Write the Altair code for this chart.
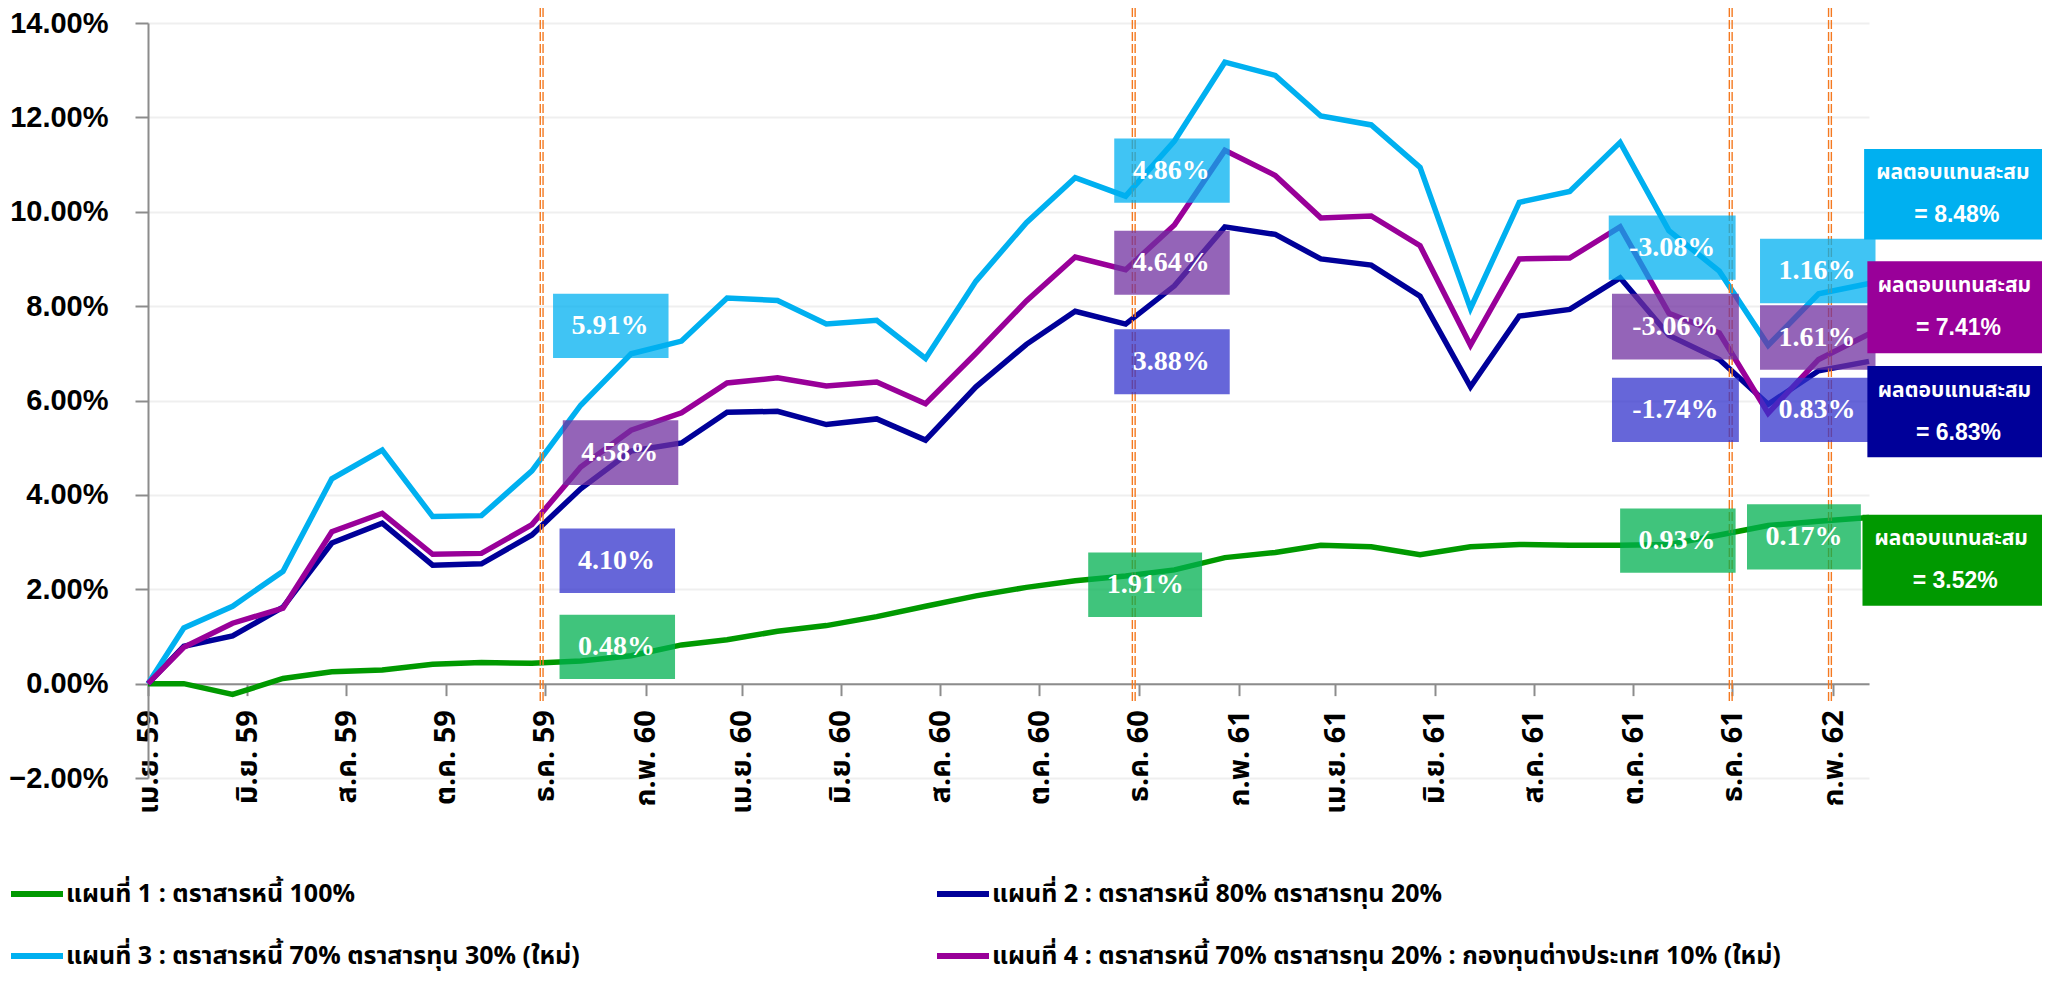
import altair as alt
import pandas as pd

# ---------------- data ----------------
dates = [
    "2016-04-01", "2016-04-23", "2016-05-23", "2016-06-23", "2016-07-23", "2016-08-23",
    "2016-09-23", "2016-10-23", "2016-11-23", "2016-12-23",
    "2017-01-23", "2017-02-23", "2017-03-23", "2017-04-23", "2017-05-23", "2017-06-23",
    "2017-07-23", "2017-08-23", "2017-09-23", "2017-10-23", "2017-11-23", "2017-12-23",
    "2018-01-23", "2018-02-23", "2018-03-23", "2018-04-23", "2018-05-23", "2018-06-23",
    "2018-07-23", "2018-08-23", "2018-09-23", "2018-10-23", "2018-11-23", "2018-12-23",
    "2019-01-23", "2019-02-23",
]

plan1 = [0.00, 0.00, -0.23, 0.11, 0.25, 0.29, 0.41, 0.45, 0.43, 0.48,
         0.59, 0.82, 0.93, 1.11, 1.23, 1.42, 1.64, 1.86, 2.04, 2.18, 2.28, 2.41,
         2.67, 2.78, 2.93, 2.90, 2.73, 2.90, 2.95, 2.93, 2.93, 2.95, 3.15, 3.35,
         3.44, 3.52]
plan2 = [0.00, 0.79, 1.01, 1.62, 2.98, 3.40, 2.51, 2.54, 3.15, 4.13,
         4.93, 5.10, 5.75, 5.77, 5.49, 5.61, 5.16, 6.29, 7.19, 7.89, 7.62, 8.43,
         9.68, 9.52, 9.00, 8.87, 8.21, 6.29, 7.79, 7.93, 8.60, 7.38, 6.87, 5.92,
         6.63, 6.83]
plan3 = [0.00, 1.18, 1.64, 2.38, 4.34, 4.95, 3.54, 3.56, 4.51, 5.90,
         6.99, 7.26, 8.17, 8.12, 7.62, 7.70, 6.89, 8.53, 9.77, 10.72, 10.33, 11.50,
         13.17, 12.89, 12.03, 11.84, 10.94, 7.95, 10.20, 10.43, 11.47, 9.60, 8.74, 7.17,
         8.26, 8.48]
plan4 = [0.00, 0.77, 1.28, 1.60, 3.22, 3.61, 2.74, 2.76, 3.37, 4.59,
         5.37, 5.74, 6.37, 6.48, 6.31, 6.39, 5.93, 7.00, 8.11, 9.04, 8.77, 9.72,
         11.30, 10.77, 9.87, 9.91, 9.28, 7.17, 9.00, 9.02, 9.68, 7.85, 7.43, 5.73,
         6.87, 7.41]

plan_names = [
    "แผนที่ 1 : ตราสารหนี้ 100%",
    "แผนที่ 2 : ตราสารหนี้ 80% ตราสารทุน 20%",
    "แผนที่ 3 : ตราสารหนี้ 70% ตราสารทุน 30% (ใหม่)",
    "แผนที่ 4 : ตราสารหนี้ 70% ตราสารทุน 20% : กองทุนต่างประเทศ 10% (ใหม่)",
]
plan_colors = ["#009900", "#000099", "#00B0F0", "#990099"]
# legend is filled column by column: plans 1 and 3 on the left, 2 and 4 on the right
legend_order = [0, 2, 1, 3]

tick_dates = ["2016-04-01", "2016-06-01", "2016-08-01", "2016-10-01", "2016-12-01",
              "2017-02-01", "2017-04-01", "2017-06-01", "2017-08-01", "2017-10-01",
              "2017-12-01", "2018-02-01", "2018-04-01", "2018-06-01", "2018-08-01",
              "2018-10-01", "2018-12-01", "2019-02-01"]
tick_labels = ["เม.ย. 59", "มิ.ย. 59", "ส.ค. 59", "ต.ค. 59", "ธ.ค. 59",
               "ก.พ. 60", "เม.ย. 60", "มิ.ย. 60", "ส.ค. 60", "ต.ค. 60",
               "ธ.ค. 60", "ก.พ. 61", "เม.ย. 61", "มิ.ย. 61", "ส.ค. 61",
               "ต.ค. 61", "ธ.ค. 61", "ก.พ. 62"]
y_ticks = [-2, 0, 2, 4, 6, 8, 10, 12, 14]

# period markers (dashed lines)
marker_dates = ["2016-11-29", "2017-11-28", "2018-11-30", "2019-01-30"]

# period-return boxes
box_text = ["5.91%", "4.58%", "4.10%", "0.48%",
            "4.86%", "4.64%", "3.88%", "1.91%",
            "-3.08%", "-3.06%", "-1.74%", "0.93%",
            "1.16%", "1.61%", "0.83%", "0.17%"]
box_x0 = ["2016-12-06", "2016-12-12", "2016-12-10", "2016-12-10",
          "2017-11-16", "2017-11-16", "2017-11-16", "2017-10-31",
          "2018-09-16", "2018-09-18", "2018-09-18", "2018-09-23",
          "2018-12-18", "2018-12-18", "2018-12-18", "2018-12-10"]
box_x1 = ["2017-02-15", "2017-02-21", "2017-02-19", "2017-02-19",
          "2018-01-26", "2018-01-26", "2018-01-26", "2018-01-09",
          "2018-12-03", "2018-12-05", "2018-12-05", "2018-12-03",
          "2019-02-27", "2019-02-27", "2019-02-27", "2019-02-18"]
box_top = [8.26, 5.58, 3.29, 1.46,
           11.55, 9.60, 7.51, 2.78,
           9.92, 8.26, 6.48, 3.71,
           9.43, 8.02, 6.48, 3.80]
box_bot = [6.90, 4.21, 1.92, 0.10,
           10.19, 8.24, 6.13, 1.41,
           8.56, 6.87, 5.12, 2.35,
           8.06, 6.65, 5.12, 2.42]
box_kind = ["p3", "p4", "p2", "p1"] * 4
box_fill = {"p1": "#00B050", "p2": "#3333CC", "p3": "#00B0F0", "p4": "#7030A0"}

# cumulative-return boxes
final_label = "ผลตอบแทนสะสม"
final_value = ["= 8.48%", "= 7.41%", "= 6.83%", "= 3.52%"]
final_x0 = ["2019-02-20", "2019-02-22", "2019-02-22", "2019-02-19"]
final_x1 = ["2019-06-14", "2019-06-14", "2019-06-14", "2019-06-14"]
final_top = [11.33, 8.95, 6.73, 3.58]
final_bot = [9.41, 7.00, 4.80, 1.65]
final_fill = ["#00B0F0", "#990099", "#000099", "#009900"]

# ---------------- tables ----------------
rows = []
for name, vals in zip(plan_names, [plan1, plan2, plan3, plan4]):
    for d, v in zip(dates, vals):
        rows.append({"date": d, "value": v, "plan": name})
df = pd.DataFrame(rows)


def mid(a, b):
    ta, tb = pd.Timestamp(a), pd.Timestamp(b)
    return (ta + (tb - ta) / 2).strftime("%Y-%m-%d")


boxes = pd.DataFrame({
    "text": box_text, "x0": box_x0, "x1": box_x1, "top": box_top, "bot": box_bot,
    "kind": box_kind,
})
boxes["xm"] = [mid(a, b) for a, b in zip(box_x0, box_x1)]
boxes["ym"] = (boxes["top"] + boxes["bot"]) / 2

finals = pd.DataFrame({
    "label": [final_label] * 4, "value": final_value, "x0": final_x0, "x1": final_x1,
    "top": final_top, "bot": final_bot, "fill": final_fill,
})
finals["xm"] = [mid(a, b) for a, b in zip(final_x0, final_x1)]
finals["ym"] = (finals["top"] + finals["bot"]) / 2

markers = pd.DataFrame({"date": marker_dates})

# ---------------- scales / axes ----------------
THAI = "Noto Sans Thai, Noto Sans, Liberation Sans, sans-serif"


def dt(s):
    y, m, d = (int(p) for p in s.split("-"))
    return alt.DateTime(year=y, month=m, date=d, utc=True)


xscale = alt.Scale(type="utc", domain=[dt(dates[0]), dt(dates[-1])], nice=False)
yscale = alt.Scale(domain=[y_ticks[0], y_ticks[-1]], nice=False, zero=False)

keys = ",".join("'" + d[:7] + "'" for d in tick_dates)
labs = ",".join("'" + l + "'" for l in tick_labels)
x_label_expr = f"[{labs}][indexof([{keys}], utcFormat(datum.value, '%Y-%m'))]"

HEIGHT = 755
xaxis = alt.Axis(
    values=[dt(d) for d in tick_dates], labelExpr=x_label_expr, labelAngle=270,
    labelFont=THAI, labelFontSize=29, labelFontWeight="bold", labelColor="black",
    tickSize=12, tickColor="#8C8C8C", tickWidth=2, domainColor="#8C8C8C", domainWidth=2,
    labelPadding=14, offset=-HEIGHT * 2 / 16, grid=False, title=None,
    labelOverlap=False, labelFlush=False,
)
yaxis = alt.Axis(
    values=y_ticks, labelExpr="format(datum.value, '.2f') + '%'",
    labelFont="Liberation Sans", labelFontSize=29, labelFontWeight="bold", labelColor="black",
    tickSize=13, tickColor="#8C8C8C", tickWidth=2, domainColor="#8C8C8C", domainWidth=2,
    labelPadding=27, gridColor="#EFEFEF", gridWidth=2, title=None,
)

legend = alt.Legend(
    orient="none", legendX=-140, legendY=842, columns=2, columnPadding=345, rowPadding=20,
    symbolType="stroke", symbolSize=2704, symbolStrokeWidth=6, labelFont=THAI,
    labelFontSize=25, labelFontWeight="bold", labelColor="black", labelLimit=1500,
    labelOffset=0, title=None, padding=0,
)

lines = alt.Chart(df).mark_line(strokeWidth=5.5).encode(
    x=alt.X("date:T", scale=xscale, axis=xaxis),
    y=alt.Y("value:Q", scale=yscale, axis=yaxis),
    color=alt.Color(
        "plan:N",
        scale=alt.Scale(domain=[plan_names[i] for i in legend_order],
                        range=[plan_colors[i] for i in legend_order]),
        legend=legend,
    ),
)

rule_a = alt.Chart(markers).mark_rule(color="#F47920", strokeWidth=1.4, strokeDash=[9, 3], xOffset=-1.4).encode(
    x="date:T", y=alt.value(-15), y2=alt.value(679))
rule_b = alt.Chart(markers).mark_rule(color="#F47920", strokeWidth=1.4, strokeDash=[9, 3], xOffset=1.4).encode(
    x="date:T", y=alt.value(-15), y2=alt.value(679))

box_rects = alt.Chart(boxes).mark_rect(opacity=0.75).encode(
    x="x0:T", x2="x1:T", y="top:Q", y2="bot:Q",
    fill=alt.Fill("kind:N", scale=alt.Scale(domain=list(box_fill.keys()), range=list(box_fill.values())), legend=None),
)
box_texts = alt.Chart(boxes).mark_text(font="Liberation Serif", fontSize=28, fontWeight="bold", color="white").encode(
    x="xm:T", y="ym:Q", text="text:N")

final_rects = alt.Chart(finals).mark_rect().encode(
    x="x0:T", x2="x1:T", y="top:Q", y2="bot:Q", color=alt.Color("fill:N", scale=None))
final_t1 = alt.Chart(finals).mark_text(font=THAI, fontSize=21, fontWeight="bold", color="white", dy=-21, dx=-4).encode(
    x="xm:T", y="ym:Q", text="label:N")
final_t2 = alt.Chart(finals).mark_text(font="Liberation Sans", fontSize=23, fontWeight="bold", color="white", dy=21).encode(
    x="xm:T", y="ym:Q", text="value:N")

chart = alt.layer(
    lines, rule_a, rule_b, box_rects, box_texts, final_rects, final_t1, final_t2
).resolve_scale(color="independent").properties(
    width=1721, height=HEIGHT,
    autosize=alt.AutoSizeParams(type="none"),
    padding={"left": 140, "top": 15, "right": 173, "bottom": 206},
).configure_view(stroke=None)

chart.save("out.html", embed_options={"renderer": "svg", "actions": False})
